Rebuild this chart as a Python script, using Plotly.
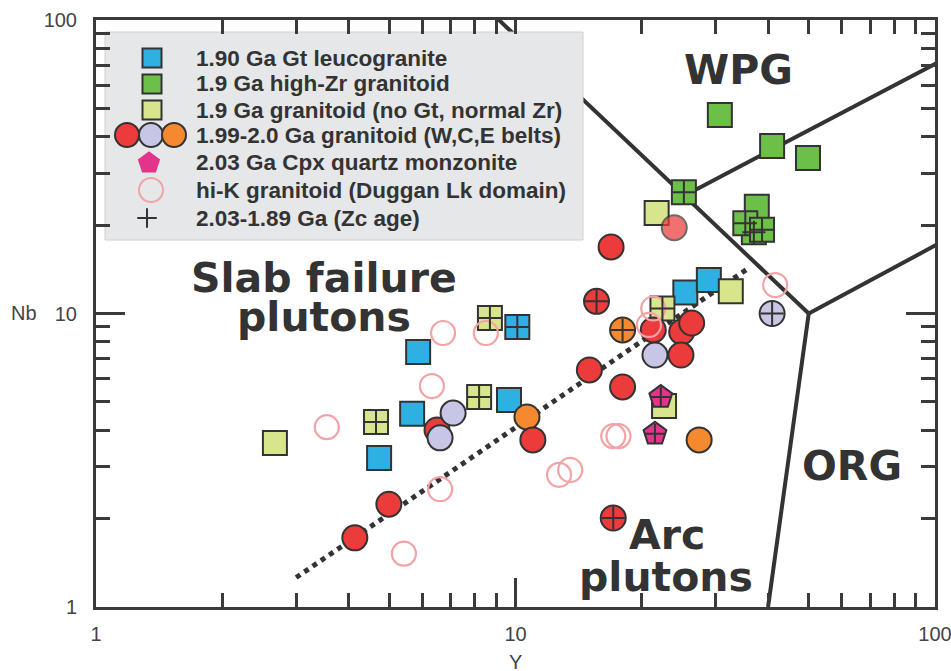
import plotly.graph_objects as go

# ---------------- data (Y, Nb in ppm) ----------------
blue_x = [5.86, 5.67, 4.73, 9.65, 10.1, 25.4, 28.9]
blue_y = [7.39, 4.55, 3.22, 5.07, 9.0, 11.8, 13.0]
blue_zc = [0, 0, 0, 0, 1, 0, 0]

green_x = [30.7, 40.9, 49.8, 25.2, 37.6, 37.0, 35.3, 38.7]
green_y = [47.5, 37.2, 33.9, 25.9, 23.1, 18.9, 20.3, 19.3]
green_zc = [0, 0, 0, 1, 0, 1, 1, 1]

yellow_x = [2.67, 4.65, 8.19, 8.69, 21.7, 32.6, 22.4, 22.6]
yellow_y = [3.62, 4.27, 5.19, 9.66, 22.0, 11.9, 10.4, 4.84]
yellow_zc = [0, 1, 1, 1, 0, 0, 1, 0]

orange_x = [10.65, 18.0, 27.4]
orange_y = [4.44, 8.79, 3.71]
orange_zc = [0, 1, 0]

red_x = [4.14, 4.99, 6.50, 11.0, 15.0, 18.0, 15.6, 17.1, 16.9, 23.9, 21.3, 24.9, 26.3, 24.8]
red_y = [1.72, 2.24, 4.01, 3.71, 6.42, 5.62, 11.0, 2.01, 16.85, 19.6, 8.79, 8.65, 9.28, 7.22]
red_zc = [0, 0, 0, 0, 0, 0, 1, 1, 0, 0, 0, 0, 0, 0]
red_alpha = [1, 1, 1, 1, 1, 1, 1, 1, 1, 0.72, 1, 1, 1, 1]

lav_x = [7.10, 6.61, 21.5, 40.9]
lav_y = [4.58, 3.77, 7.22, 10.0]
lav_zc = [0, 0, 0, 1]

cpx_x = [22.2, 21.5]
cpx_y = [5.19, 3.89]
cpx_zc = [1, 1]

hik_x = [3.55, 6.32, 6.72, 6.61, 5.42, 8.5, 12.7, 13.5, 17.1, 17.6, 20.8, 21.3, 41.6]
hik_y = [4.10, 5.66, 8.58, 2.52, 1.52, 8.58, 2.82, 2.93, 3.82, 3.82, 9.14, 10.4, 12.5]

# discrimination boundaries (Pearce et al. 1984)
b_wpg_x, b_wpg_y = [1, 50], [2000, 10]
b_org_x, b_org_y = [50, 1000], [10, 100]
b_arc_x, b_arc_y = [50, 40], [10, 1]
b_up_x, b_up_y = [25, 1000], [25, 400]
trend_x, trend_y = [3.0, 36.0], [1.26, 14.3]

tick_vals = [1, 10, 100]
tick_text = ["1", "10", "100"]
minor_vals = [2, 3, 4, 5, 6, 7, 8, 9, 20, 30, 40, 50, 60, 70, 80, 90]
top_vals = [2, 3, 4, 5, 6, 7, 8, 9, 10, 20, 30, 40, 50, 60, 70, 80, 90]

legend_labels = [
    "1.90 Ga Gt leucogranite",
    "1.9 Ga high-Zr granitoid",
    "1.9 Ga granitoid (no Gt, normal Zr)",
    "1.99-2.0 Ga granitoid (W,C,E belts)",
    "2.03 Ga Cpx quartz monzonite",
    "hi-K granitoid (Duggan Lk domain)",
    "2.03-1.89 Ga (Zc age)",
]

# ---------------- styles ----------------
DARK = "#333333"
AX = "#3a3a3a"
C_BLUE = "#2fb0e3"
C_GREEN = "#6cc04a"
C_YEL = "#d9e58c"
C_RED = "#ec3b3b"
C_LAV = "#c8c6e6"
C_ORA = "#f5892f"
C_MAG = "#e2348b"
C_PINK = "#f3a3a6"

W, H = 951, 671
L, R, T, B = 96, 16, 20, 64
PW, PH = W - L - R, H - T - B

fig = go.Figure()

def line(xs, ys, dash="solid", width=4):
    fig.add_trace(go.Scatter(x=xs, y=ys, mode="lines",
                             line=dict(color=DARK, width=width, dash=dash),
                             hoverinfo="skip", showlegend=False))

line(b_wpg_x, b_wpg_y)
line(b_org_x, b_org_y)
line(b_arc_x, b_arc_y)
line(b_up_x, b_up_y)
line(trend_x, trend_y, dash="5px,5px", width=5)

def pts(xs, ys, symbol, color, size, opacity=None):
    fig.add_trace(go.Scatter(
        x=xs, y=ys, mode="markers",
        marker=dict(symbol=symbol, color=color, size=size, opacity=opacity,
                    line=dict(color=DARK, width=2)),
        hoverinfo="skip", showlegend=False))

def crosses(xs, ys, flags, size):
    cx = [x for x, f in zip(xs, flags) if f]
    cy = [y for y, f in zip(ys, flags) if f]
    fig.add_trace(go.Scatter(
        x=cx, y=cy, mode="markers",
        marker=dict(symbol="cross-thin", size=size, color=DARK,
                    line=dict(color=DARK, width=2)),
        hoverinfo="skip", showlegend=False))

pts(blue_x, blue_y, "square", C_BLUE, 24)
pts(green_x, green_y, "square", C_GREEN, 24)
pts(yellow_x, yellow_y, "square", C_YEL, 24)
pts(orange_x, orange_y, "circle", C_ORA, 25)
pts(red_x, red_y, "circle", C_RED, 25, red_alpha)
pts(lav_x, lav_y, "circle", C_LAV, 25)
pts(cpx_x, cpx_y, "pentagon", C_MAG, 24)
fig.add_trace(go.Scatter(
    x=hik_x, y=hik_y, mode="markers",
    marker=dict(symbol="circle-open", size=24, color=C_PINK,
                line=dict(color=C_PINK, width=2.2)),
    hoverinfo="skip", showlegend=False))
crosses(blue_x, blue_y, blue_zc, 16.5)
crosses(green_x, green_y, green_zc, 16.5)
crosses(yellow_x, yellow_y, yellow_zc, 16.5)
crosses(orange_x, orange_y, orange_zc, 16.5)
crosses(red_x, red_y, red_zc, 16.5)
crosses(lav_x, lav_y, lav_zc, 16.5)
crosses(cpx_x, cpx_y, cpx_zc, 14)

# dummy trace so that the top tick axis is drawn
fig.add_trace(go.Scatter(x=[10], y=[10], xaxis="x3", yaxis="y", mode="markers",
                         marker=dict(size=1, opacity=0), hoverinfo="skip",
                         showlegend=False))

# ---------------- custom legend (overlay axes in pixel units) ----------------
box_l, box_r, box_t, box_b = 105, 583, 32, 240
fig.add_trace(go.Scatter(
    x=[box_l, box_r, box_r, box_l, box_l], y=[box_t, box_t, box_b, box_b, box_t],
    mode="lines", fill="toself", fillcolor="#e6e7e8",
    line=dict(color="#cfd0d2", width=1), xaxis="x2", yaxis="y2",
    hoverinfo="skip", showlegend=False))

rows_y = [58, 84, 110, 135, 163, 190, 218]
leg_sym = [
    (152, rows_y[0], "square", C_BLUE, 19),
    (152, rows_y[1], "square", C_GREEN, 19),
    (152, rows_y[2], "square", C_YEL, 19),
    (127, rows_y[3], "circle", C_RED, 24),
    (151, rows_y[3], "circle", C_LAV, 24),
    (174, rows_y[3], "circle", C_ORA, 24),
    (149, rows_y[4], "pentagon", C_MAG, 21),
]
for sx, sy, sym, col, sz in leg_sym:
    fig.add_trace(go.Scatter(
        x=[sx], y=[sy], mode="markers", xaxis="x2", yaxis="y2",
        marker=dict(symbol=sym, color=col, size=sz,
                    line=dict(color=DARK if sym != "pentagon" else col, width=2)),
        hoverinfo="skip", showlegend=False))
fig.add_trace(go.Scatter(
    x=[151], y=[rows_y[5]], mode="markers", xaxis="x2", yaxis="y2",
    marker=dict(symbol="circle-open", size=24, color=C_PINK,
                line=dict(color=C_PINK, width=2)),
    hoverinfo="skip", showlegend=False))
fig.add_trace(go.Scatter(
    x=[147], y=[rows_y[6]], mode="markers", xaxis="x2", yaxis="y2",
    marker=dict(symbol="cross-thin", size=14, color=DARK,
                line=dict(color=DARK, width=2)),
    hoverinfo="skip", showlegend=False))

def px(xp):
    return (xp - L) / PW

def py(yp):
    return (H - B - yp) / PH

annotations = []
for lab, yy in zip(legend_labels, rows_y):
    annotations.append(dict(
        x=px(194), y=py(yy), xref="paper", yref="paper", text=lab,
        showarrow=False, xanchor="left", yanchor="middle",
        font=dict(family="Liberation Sans, Arial, sans-serif", size=22.5,
                  color=DARK, weight="bold")))

BIG = dict(family="DejaVu Sans, sans-serif", size=41, color=DARK, weight="bold")
for txt, xx, yy in [("Slab failure", 324, 278), ("plutons", 324, 317),
                    ("WPG", 738, 70), ("ORG", 852, 466),
                    ("Arc", 667, 535), ("plutons", 666, 577)]:
    annotations.append(dict(x=px(xx), y=py(yy), xref="paper", yref="paper",
                            text=txt, showarrow=False, xanchor="center",
                            yanchor="middle", font=BIG))

TICKFONT = dict(family="Liberation Sans Narrow, Arial Narrow, Liberation Sans, sans-serif",
                size=20, color="#444444")
annotations.append(dict(x=px(24), y=py(313), xref="paper", yref="paper", text="Nb",
                        showarrow=False, xanchor="center", yanchor="middle",
                        font=TICKFONT))
annotations.append(dict(x=px(515), y=py(662), xref="paper", yref="paper", text="Y",
                        showarrow=False, xanchor="center", yanchor="middle",
                        font=TICKFONT))

minor_common = dict(ticks="inside", ticklen=14, tickwidth=2.5, tickcolor=AX,
                    tickvals=minor_vals, showgrid=False)

fig.update_layout(
    width=W, height=H,
    margin=dict(l=L, r=R, t=T, b=B, pad=0, autoexpand=False),
    paper_bgcolor="white", plot_bgcolor="white",
    xaxis=dict(type="log", range=[0, 2], showgrid=False, zeroline=False,
               showline=True, linecolor=AX, linewidth=3, mirror=True,
               ticks="inside", ticklen=29, tickwidth=2.5, tickcolor=AX,
               tickvals=tick_vals, ticktext=tick_text, tickfont=TICKFONT,
               ticklabelstandoff=7, ticklabeloverflow="allow", automargin=False,
               minor=minor_common, fixedrange=True),
    yaxis=dict(type="log", range=[0, 2], showgrid=False, zeroline=False,
               showline=True, linecolor=AX, linewidth=3, mirror="ticks",
               ticks="inside", ticklen=29, tickwidth=2.5, tickcolor=AX,
               tickvals=tick_vals, ticktext=tick_text, tickfont=TICKFONT,
               ticklabelstandoff=12, ticklabeloverflow="allow", automargin=False,
               minor=minor_common, fixedrange=True),
    xaxis3=dict(type="log", range=[0, 2], overlaying="x", side="top",
                anchor="y", showgrid=False, zeroline=False, showline=False,
                ticks="inside", ticklen=14, tickwidth=2.5, tickcolor=AX,
                tickvals=top_vals, showticklabels=False, fixedrange=True,
                automargin=False),
    xaxis2=dict(overlaying="x", range=[L, W - R], visible=False, fixedrange=True,
                automargin=False),
    yaxis2=dict(overlaying="y", range=[H - B, T], visible=False, fixedrange=True,
                automargin=False),
    annotations=annotations,
    showlegend=False,
)

fig.write_html("out.html")
